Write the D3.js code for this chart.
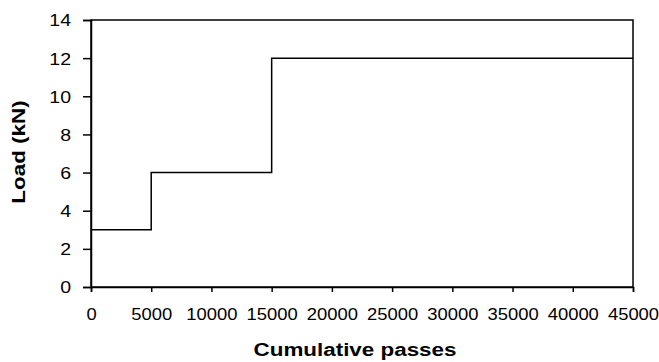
<!DOCTYPE html>
<html>
<head>
<meta charset="utf-8">
<script src="https://cdn.jsdelivr.net/npm/d3@7"></script>
<style>
body { margin: 0; background: #fff; }
text { font-family: "Liberation Sans", Arial, sans-serif; fill: #000; }
</style>
</head>
<body>
<div id="target"></div>
<script>
// step data: load held constant until the next pass count
let passes = [0, 5000, 15000, 45000]
let loads = [3, 6, 12, 12]
let xTicks = [0, 5000, 10000, 15000, 20000, 25000, 30000, 35000, 40000, 45000]
let yTicks = [0, 2, 4, 6, 8, 10, 12, 14]

let width = 659, height = 362
let margin = { left: 91, right: 26, top: 20, bottom: 75 }
// the original text is a bit wider than Arial
let stretch = 1.15

let svg = d3.select("#target").append("svg")
    .attr("width", width)
    .attr("height", height)

let x = d3.scaleLinear().domain([0, 45000]).range([margin.left, width - margin.right])
let y = d3.scaleLinear().domain([0, 14]).range([height - margin.bottom, margin.top])

// frame
svg.append("rect")
    .attr("x", x(0)).attr("y", y(14))
    .attr("width", x(45000) - x(0)).attr("height", y(0) - y(14))
    .attr("fill", "none").attr("stroke", "#000").attr("stroke-width", 1.5)

let xAxis = svg.append("g")
    .attr("transform", `translate(0,${y(0)})`)
    .call(d3.axisBottom(x).tickValues(xTicks).tickSize(5).tickPadding(17).tickFormat(d3.format("d")))
let yAxis = svg.append("g")
    .attr("transform", `translate(${x(0)},0)`)
    .call(d3.axisLeft(y).tickValues(yTicks).tickSize(8).tickPadding(12))

for (let g of [xAxis, yAxis]) {
    g.select(".domain").attr("stroke", "#000").attr("stroke-width", 1.5)
    g.selectAll(".tick line").attr("stroke", "#000").attr("stroke-width", 1.5)
    g.selectAll("text").style("font-size", "16px").attr("fill", "#000")
        .style("font-family", "Liberation Sans, Arial, sans-serif")
}
yAxis.selectAll("text").style("font-size", "17px")
// widen tick labels around their anchor
xAxis.selectAll(".tick text").each(function () {
    let t = d3.select(this)
    let ty = +t.attr("y")
    t.attr("transform", `translate(0,${ty}) scale(${stretch},1)`).attr("y", 0)
})
yAxis.selectAll(".tick text").attr("dy", "0.35em").each(function () {
    let t = d3.select(this)
    let tx = +t.attr("x")
    t.attr("transform", `translate(${tx},0) scale(${stretch},1)`).attr("x", 0)
})

let pts = passes.map((p, i) => ({ p: p, l: loads[i] }))
let line = d3.line().x(d => x(d.p)).y(d => y(d.l)).curve(d3.curveStepAfter)
svg.append("path")
    .datum(pts)
    .attr("d", line)
    .attr("fill", "none")
    .attr("stroke", "#000")
    .attr("stroke-width", 1.5)

svg.append("text")
    .attr("transform", `translate(355,356) scale(1.18,1)`)
    .attr("text-anchor", "middle")
    .style("font-size", "19px").style("font-weight", "bold")
    .text("Cumulative passes")

svg.append("text")
    .attr("transform", `translate(25,152) rotate(-90) scale(1.18,1)`)
    .attr("text-anchor", "middle")
    .style("font-size", "19px").style("font-weight", "bold")
    .text("Load (kN)")
</script>
</body>
</html>
